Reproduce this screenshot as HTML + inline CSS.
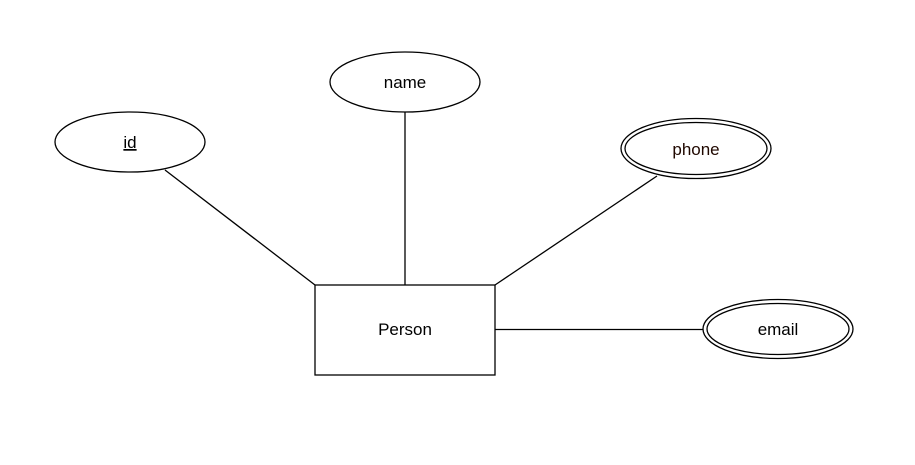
<!DOCTYPE html>
<html><head><meta charset="utf-8"><style>html,body{margin:0;padding:0;background:#fff;}svg{display:block}</style></head>
<body>
<svg width="915" height="465" viewBox="0 0 915 465" xmlns="http://www.w3.org/2000/svg" font-family="Liberation Sans, Arial, sans-serif" font-size="17">
<g stroke="#000" stroke-width="1.3" fill="none">
<line x1="165" y1="170" x2="315" y2="285"/>
<line x1="405" y1="112" x2="405" y2="285"/>
<line x1="657" y1="176" x2="495" y2="285"/>
<line x1="495" y1="329.5" x2="703" y2="329.5"/>
<rect x="315" y="285" width="180" height="90" fill="#fff"/>
<ellipse cx="130" cy="142" rx="75" ry="30" fill="#fff"/>
<ellipse cx="405" cy="82" rx="75" ry="30" fill="#fff"/>
<ellipse cx="696" cy="148.5" rx="75" ry="30" fill="#fff"/>
<ellipse cx="696" cy="148.5" rx="71" ry="26"/>
<ellipse cx="778" cy="329" rx="75" ry="29.5" fill="#fff"/>
<ellipse cx="778" cy="329" rx="71" ry="25.5"/>
</g>
<g text-anchor="middle" fill="#000">
<text x="130" y="148" text-decoration="underline">id</text>
<text x="405" y="88">name</text>
<text x="696" y="155" fill="#200800">phone</text>
<text x="778" y="335">email</text>
<text x="405" y="335">Person</text>
</g>
</svg>
</body></html>
